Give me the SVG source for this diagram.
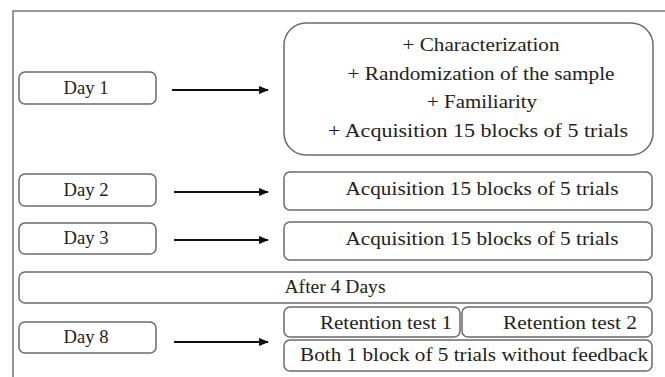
<svg xmlns="http://www.w3.org/2000/svg" width="665" height="377" viewBox="0 0 665 377">
<defs>
<marker id="ah" markerWidth="10" markerHeight="8" refX="9" refY="4" orient="auto" markerUnits="userSpaceOnUse">
<path d="M0,0 L10,4 L0,8 Z" fill="#111"/>
</marker>
<style>
.b{fill:#fff;stroke:#6b6b6b;stroke-width:1.5}
.t{font-size:18px;fill:#222;text-anchor:middle}
.c{stroke:#111;stroke-width:2;fill:none;marker-end:url(#ah)}
</style>
</defs>
<rect width="665" height="377" fill="#fff"/>
<path d="M13,377 V11 H665" fill="none" stroke="#777" stroke-width="1.5"/>
<g font-family="Liberation Serif, Times New Roman, serif">
<g id="day1"><rect class="b" x="19" y="72" width="137" height="32" rx="6"/><text class="t" x="86" y="94" textLength="45" lengthAdjust="spacingAndGlyphs">Day 1</text></g>
<g id="day1-tasks"><rect class="b" x="284" y="23" width="369" height="132" rx="22"/>
<text class="t" x="481" y="51" textLength="157" lengthAdjust="spacingAndGlyphs">+ Characterization</text>
<text class="t" x="481" y="80" textLength="267" lengthAdjust="spacingAndGlyphs">+ Randomization of the sample</text>
<text class="t" x="482" y="108" textLength="110" lengthAdjust="spacingAndGlyphs">+ Familiarity</text>
<text class="t" x="478" y="137" textLength="300" lengthAdjust="spacingAndGlyphs">+ Acquisition 15 blocks of 5 trials</text></g>
<g id="day2"><rect class="b" x="19" y="174" width="137" height="32" rx="6"/><text class="t" x="86" y="196" textLength="45" lengthAdjust="spacingAndGlyphs">Day 2</text></g>
<g id="day2-tasks"><rect class="b" x="284" y="172" width="368" height="38" rx="6"/><text class="t" x="482" y="195" textLength="273" lengthAdjust="spacingAndGlyphs">Acquisition 15 blocks of 5 trials</text></g>
<g id="day3"><rect class="b" x="19" y="223" width="137" height="31" rx="6"/><text class="t" x="86" y="244" textLength="45" lengthAdjust="spacingAndGlyphs">Day 3</text></g>
<g id="day3-tasks"><rect class="b" x="284" y="222" width="368" height="38" rx="6"/><text class="t" x="482" y="245" textLength="273" lengthAdjust="spacingAndGlyphs">Acquisition 15 blocks of 5 trials</text></g>
<g id="after4"><rect class="b" x="19" y="272" width="633" height="31" rx="6"/><text class="t" x="335" y="293" textLength="101" lengthAdjust="spacingAndGlyphs">After 4 Days</text></g>
<g id="day8"><rect class="b" x="19" y="322" width="137" height="31" rx="6"/><text class="t" x="86" y="343" textLength="45" lengthAdjust="spacingAndGlyphs">Day 8</text></g>
<g id="ret1"><rect class="b" x="284" y="307" width="176" height="30" rx="6"/><text class="t" x="386" y="329" textLength="132" lengthAdjust="spacingAndGlyphs">Retention test 1</text></g>
<g id="ret2"><rect class="b" x="462" y="307" width="190" height="30" rx="6"/><text class="t" x="570" y="329" textLength="134" lengthAdjust="spacingAndGlyphs">Retention test 2</text></g>
<g id="both"><rect class="b" x="284" y="340" width="368" height="31" rx="6"/><text class="t" x="474" y="361" textLength="348" lengthAdjust="spacingAndGlyphs">Both 1 block of 5 trials without feedback</text></g>
</g>
<g id="connectors">
<line class="c" x1="172" y1="90" x2="268" y2="90"/>
<line class="c" x1="174" y1="192" x2="268" y2="192"/>
<line class="c" x1="174" y1="240" x2="268" y2="240"/>
<line class="c" x1="174" y1="342" x2="268" y2="342"/>
</g>
</svg>
